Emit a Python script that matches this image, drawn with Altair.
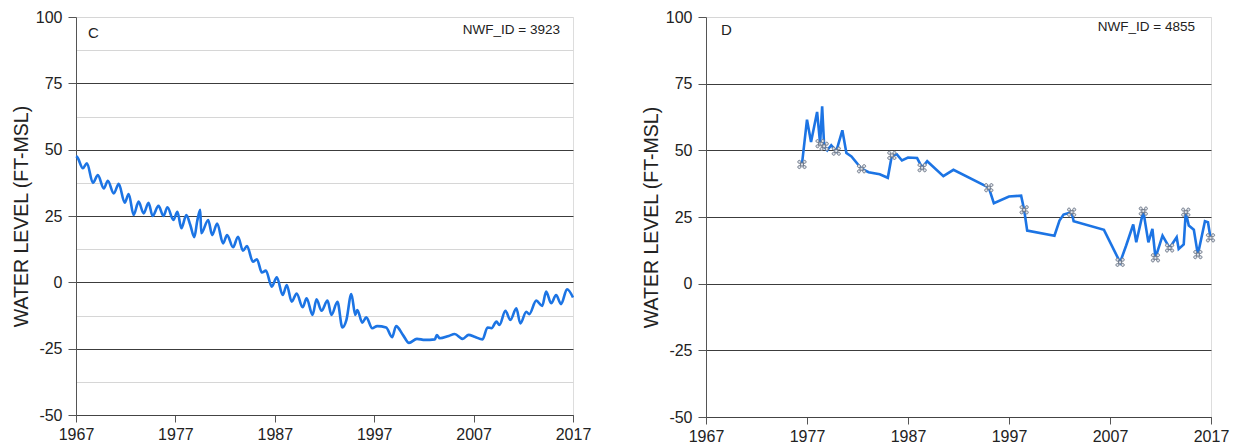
import altair as alt
import pandas as pd

# ---- Panel C (NWF_ID = 3923) ----
c_years = [1967.0, 1967.1, 1967.7, 1968.1, 1968.7, 1969.2, 1969.8, 1970.2, 1970.8, 1971.3,
           1971.9, 1972.3, 1972.8, 1973.3, 1973.8, 1974.3, 1974.7, 1975.3, 1975.8, 1976.2,
           1976.8, 1977.2, 1977.6, 1978.1, 1978.5, 1978.9, 1979.2, 1979.5, 1979.6, 1980.3,
           1980.7, 1981.2, 1981.8, 1982.2, 1982.8, 1983.3, 1983.8, 1984.2, 1984.8, 1985.2,
           1985.7, 1986.1, 1986.7, 1987.2, 1987.8, 1988.2, 1988.7, 1989.2, 1989.8, 1990.2,
           1990.8, 1991.2, 1991.7, 1992.3, 1992.7, 1993.3, 1993.8, 1994.2, 1994.7, 1995.1,
           1995.3, 1995.8, 1996.2, 1996.8, 1997.3, 1998.2, 1998.8, 1999.2, 1999.9, 2000.5,
           2001.3, 2002.1, 2003.1, 2003.3, 2003.6, 2004.5, 2005.1, 2005.9, 2006.5, 2007.1,
           2007.9, 2008.4, 2008.8, 2009.3, 2009.6, 2010.2, 2010.7, 2011.3, 2011.7, 2012.3,
           2012.6, 2013.3, 2013.9, 2014.3, 2014.8, 2015.3, 2015.8, 2016.4, 2017.0]
c_levels = [47.5, 47.3, 43.0, 44.9, 37.5, 40.4, 35.4, 38.3, 33.5, 37.1,
            30.0, 33.3, 25.4, 30.4, 26.0, 30.0, 25.0, 28.8, 25.0, 28.3,
            23.5, 26.6, 20.4, 25.4, 21.6, 17.0, 23.2, 27.3, 18.5, 23.5,
            17.8, 22.2, 14.7, 17.8, 13.2, 17.2, 11.9, 13.7, 7.8, 8.7,
            3.7, 4.4, -1.6, 1.9, -4.8, -1.0, -7.3, -4.2, -9.4, -6.0,
            -12.3, -6.4, -10.7, -6.9, -12.3, -7.3, -17.0, -14.2, -4.4, -12.3,
            -10.4, -15.2, -13.2, -17.3, -16.5, -17.0, -20.7, -16.5, -19.9, -22.8,
            -21.3, -21.7, -21.5, -19.9, -21.1, -20.2, -19.5, -21.3, -19.8, -20.5,
            -21.5, -17.0, -17.3, -14.8, -16.1, -10.7, -14.2, -9.8, -15.5, -11.1,
            -12.0, -6.9, -8.9, -3.5, -7.9, -4.8, -8.2, -2.6, -5.7]

# ---- Panel D (NWF_ID = 4855) ----
d_years = [1976.5, 1977.0, 1977.4, 1978.0, 1978.3, 1978.5, 1978.7, 1979.0, 1979.4, 1979.9,
           1980.5, 1980.9, 1981.4, 1982.4, 1983.1, 1984.2, 1985.0, 1985.4, 1985.9, 1986.4,
           1987.0, 1987.9, 1988.4, 1988.9, 1990.5, 1991.5, 1995.0, 1995.5, 1997.0, 1998.2,
           1998.5, 1998.8, 2001.5, 2002.0, 2002.4, 2003.2, 2003.4, 2006.4, 2008.0, 2008.6,
           2009.3, 2009.6, 2010.3, 2010.8, 2011.2, 2011.5, 2012.2, 2012.9, 2013.6, 2013.8,
           2014.3, 2014.5, 2014.8, 2015.3, 2015.7, 2016.4, 2016.7, 2016.95]
d_levels = [44.7, 61.5, 53.1, 64.4, 52.5, 66.5, 51.5, 50.0, 51.9, 49.7,
            57.5, 49.0, 47.7, 43.1, 41.8, 41.0, 39.7, 48.1, 48.5, 46.2,
            47.3, 47.1, 43.5, 45.9, 40.3, 42.7, 36.0, 30.2, 32.7, 33.0,
            27.7, 19.9, 18.0, 23.7, 25.9, 26.8, 23.4, 20.2, 8.0, 14.3,
            22.2, 15.5, 27.2, 15.5, 20.5, 9.7, 18.0, 13.4, 17.4, 13.0,
            14.7, 26.8, 21.8, 20.2, 10.9, 23.4, 23.0, 17.2]
d_marker_years = [1976.5, 1978.3, 1978.7, 1979.9, 1982.4, 1985.4, 1988.4, 1995.0, 1998.5,
                  2003.2, 2008.0, 2010.3, 2011.5, 2012.9, 2014.5, 2015.7, 2016.95]
d_marker_levels = [44.7, 52.5, 51.5, 49.7, 43.1, 48.1, 43.5, 36.0, 27.7,
                   26.8, 8.0, 27.2, 9.7, 13.4, 26.8, 10.9, 17.2]

x_ticks = [1967, 1977, 1987, 1997, 2007, 2017]
y_grid = [-50, -37.5, -25, -12.5, 0, 12.5, 25, 37.5, 50, 62.5, 75, 87.5, 100]

FONT = "Liberation Sans"
BLUE = "#1c74e4"
Y_TITLE = "WATER LEVEL (FT-MSL)"


def x_enc():
    return alt.X(
        "year:Q",
        scale=alt.Scale(domain=[1967, 2017], nice=False, zero=False),
        axis=alt.Axis(values=x_ticks, format="d", grid=False, tickSize=7,
                      tickColor="#555555", domainColor="#444444", labelFontSize=16,
                      labelColor="#222222", labelFont=FONT, labelPadding=4,
                      labelFlush=False, labelOverlap=False, title=None),
    )


def y_enc():
    return alt.Y(
        "level:Q",
        scale=alt.Scale(domain=[-50, 100], nice=False, zero=False),
        axis=alt.Axis(
            values=y_grid,
            labelExpr="datum.value % 25 === 0 ? '' + datum.value : ''",
            grid=True,
            gridColor={"condition": {"test": "datum.value % 25 === 0 && datum.value < 100",
                                     "value": "#3c3c3c"}, "value": "#d6d6d6"},
            gridWidth=1,
            tickOpacity={"condition": {"test": "datum.value % 25 === 0", "value": 1},
                         "value": 0},
            tickSize=8, tickColor="#555555", domainColor="#555555",
            labelFontSize=16, labelColor="#222222", labelFont=FONT, labelPadding=6,
            labelFlush=False, labelOverlap=False,
            title=Y_TITLE, titleFont=FONT, titleFontSize=19.5, titleFontWeight="normal",
            titleColor="#222222", titlePadding=4,
        ),
    )


def panel(years, levels, letter, label, w, h, letter_pos, label_pos, interp, markers=None):
    df = pd.DataFrame({"year": years, "level": levels})
    line = alt.Chart(df).mark_line(color=BLUE, strokeWidth=2.6, interpolate=interp).encode(
        x=x_enc(), y=y_enc())
    layers = [line]
    if markers is not None:
        mdf = pd.DataFrame({"year": markers[0], "level": markers[1]})
        cmd = ("M-0.35,-0.35L0.35,-0.35L0.35,0.35L-0.35,0.35Z"
               "M-0.95,-0.6a0.35,0.35 0 1,0 0.7,0a0.35,0.35 0 1,0 -0.7,0"
               "M0.25,-0.6a0.35,0.35 0 1,0 0.7,0a0.35,0.35 0 1,0 -0.7,0"
               "M-0.95,0.6a0.35,0.35 0 1,0 0.7,0a0.35,0.35 0 1,0 -0.7,0"
               "M0.25,0.6a0.35,0.35 0 1,0 0.7,0a0.35,0.35 0 1,0 -0.7,0")
        pts = alt.Chart(mdf).mark_point(shape=cmd, filled=True, fill="#dfe3ea",
                                        stroke="#6e7888", strokeWidth=1, size=75,
                                        opacity=1).encode(x="year:Q", y="level:Q")
        layers.append(pts)
    one = pd.DataFrame({"letter": [letter], "label": [label]})
    t1 = alt.Chart(one).mark_text(align="left", baseline="middle",
                                  font=FONT, fontSize=15, color="#222222").encode(
        text="letter:N", x=alt.value(letter_pos[0]), y=alt.value(letter_pos[1]))
    t2 = alt.Chart(one).mark_text(align="right", baseline="middle",
                                  font=FONT, fontSize=13.5, color="#222222").encode(
        text="label:N", x=alt.value(label_pos[0]), y=alt.value(label_pos[1]))
    layers += [t1, t2]
    return alt.layer(*layers).properties(width=w, height=h)


left = panel(c_years, c_levels, "C", "NWF_ID = 3923", 497, 398, (12, 16), (484, 13),
             "monotone")
right = panel(d_years, d_levels, "D", "NWF_ID = 4855", 505, 400, (15, 13), (489, 10),
              "linear", markers=(d_marker_years, d_marker_levels))

chart = alt.hconcat(left, right, spacing=48).properties(
    padding={"left": 2, "top": 0, "right": 0, "bottom": 0}
).configure_view(stroke="#c4c4c4", strokeWidth=1).configure(background="white")

chart.save("out.html", embed_options={"renderer": "svg", "actions": False})
